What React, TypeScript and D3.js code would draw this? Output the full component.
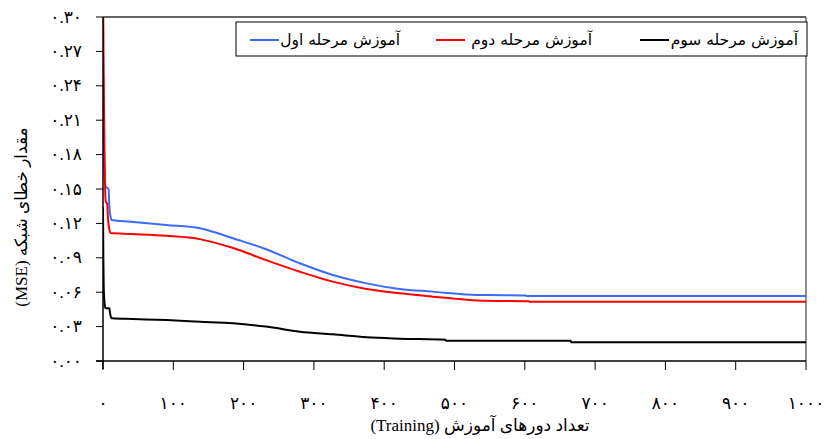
import React from 'react';
import * as d3 from 'd3';

const stage1X = [0, 0.5, 1, 2, 3, 4, 8, 9, 11, 12, 40, 90, 138, 160, 185, 232, 280, 327, 375, 422, 469, 517, 545, 601, 602, 1000];
const stage1Y = [0.26, 0.23, 0.20, 0.17, 0.155, 0.152, 0.150, 0.135, 0.125, 0.123, 0.1215, 0.1186, 0.1157, 0.112, 0.107, 0.0975, 0.0852, 0.075, 0.0677, 0.0628, 0.0605, 0.0581, 0.0575, 0.0572, 0.0567, 0.0567];

const stage2X = [0, 1, 2, 3, 4, 6, 7, 9, 11, 40, 90, 138, 160, 185, 232, 280, 327, 375, 422, 469, 517, 545, 606, 607, 1000];
const stage2Y = [0.33, 0.25, 0.19, 0.15, 0.139, 0.137, 0.125, 0.115, 0.1116, 0.1108, 0.1093, 0.1063, 0.103, 0.0985, 0.088, 0.0779, 0.0692, 0.0628, 0.059, 0.0561, 0.0535, 0.0526, 0.0521, 0.0517, 0.0517];

const stage3X = [0, 0.5, 1, 2, 3, 4, 9, 10, 12, 13, 43, 90, 138, 185, 232, 280, 327, 375, 422, 487, 488, 665, 666, 1000];
const stage3Y = [0.134, 0.09, 0.065, 0.052, 0.047, 0.046, 0.046, 0.042, 0.0375, 0.0372, 0.0366, 0.0357, 0.0343, 0.0329, 0.030, 0.0256, 0.0233, 0.0207, 0.0195, 0.0185, 0.0177, 0.0177, 0.0164, 0.0164];

const seriesNames = ['آموزش مرحله اول', 'آموزش مرحله دوم', 'آموزش مرحله سوم'];
const seriesColors = ['#3b6cf5', '#ff0000', '#000000'];

const yTickValues = [0, 0.03, 0.06, 0.09, 0.12, 0.15, 0.18, 0.21, 0.24, 0.27, 0.30];
const xTickValues = [0, 100, 200, 300, 400, 500, 600, 700, 800, 900, 1000];

const xTitle = 'تعداد دورهای آموزش (Training)';
const yTitle = 'مقدار خطای شبکه (MSE)';

const fa = (s: string) => s.replace(/\d/g, (d) => '۰۱۲۳۴۵۶۷۸۹'[+d]);

export default function App() {
  const W = 824, H = 439;
  const left = 103, right = 806, top = 17, bottom = 361;
  const x = d3.scaleLinear().domain([0, 1000]).range([left, right]);
  const y = d3.scaleLinear().domain([0, 0.30]).range([bottom, top]);

  const series = [
    { xs: stage1X, ys: stage1Y },
    { xs: stage2X, ys: stage2Y },
    { xs: stage3X, ys: stage3Y },
  ];
  const line = d3
    .line<[number, number]>()
    .x((d) => x(d[0]))
    .y((d) => y(d[1]))
    .curve(d3.curveMonotoneX);

  const font = "'Liberation Serif', 'DejaVu Sans', serif";
  const legendFont = "'DejaVu Sans', sans-serif";

  const legendItems = [
    { lx: 250, tx: 400 },
    { lx: 436, tx: 592 },
    { lx: 640, tx: 798 },
  ];

  return (
    <svg width={W} height={H} style={{ position: 'absolute', left: 0, top: 0, background: '#fff' }}>
      <defs>
        <clipPath id="plotClip">
          <rect x={left} y={top} width={right - left} height={bottom - top} />
        </clipPath>
      </defs>
      <rect x={0} y={0} width={W} height={H} fill="#fff" />
      <line x1={left} x2={right} y1={top} y2={top} stroke="#333" strokeWidth={1.5} />
      <line x1={right} x2={right} y1={top} y2={bottom} stroke="#666" strokeWidth={1.5} />

      <g clipPath="url(#plotClip)">
        {[2, 0, 1].map((i) => (
          <path
            key={i}
            d={line(series[i].xs.map((v, j) => [v, series[i].ys[j]] as [number, number])) || ''}
            fill="none"
            stroke={seriesColors[i]}
            strokeWidth={2}
            strokeLinejoin="round"
          />
        ))}
      </g>

      <line x1={left} x2={left} y1={top} y2={bottom + 8} stroke="#000" strokeWidth={1.5} />
      <line x1={left - 7} x2={right} y1={bottom} y2={bottom} stroke="#000" strokeWidth={1.5} />
      {yTickValues.map((t) => (
        <g key={'y' + t}>
          <line x1={left - 7} x2={left} y1={y(t)} y2={y(t)} stroke="#000" strokeWidth={1} />
          <text x={82} y={y(t)} dy="0.33em" textAnchor="end" fontFamily={font} fontSize={17} fill="#000">
            {fa(t.toFixed(2))}
          </text>
        </g>
      ))}
      {xTickValues.map((t) => (
        <g key={'x' + t}>
          <line x1={x(t)} x2={x(t)} y1={bottom} y2={bottom + 9} stroke="#000" strokeWidth={1} />
          <text x={x(t)} y={409} textAnchor="middle" fontFamily={font} fontSize={17} fill="#000">
            {fa(String(t))}
          </text>
        </g>
      ))}

      <text x={480} y={431} textAnchor="middle" fontFamily={font} fontSize={17} fill="#000" style={{ direction: 'rtl', unicodeBidi: 'embed' }}>
        {xTitle}
      </text>
      <text
        transform="translate(21,217) rotate(-90)"
        textAnchor="middle"
        dy="0.35em"
        fontFamily={font}
        fontSize={17}
        fill="#000"
        style={{ direction: 'rtl', unicodeBidi: 'embed' }}
      >
        {yTitle}
      </text>

      <rect x={236} y={22} width={571} height={34} fill="#fff" stroke="#000" strokeWidth={1} />
      {legendItems.map((it, i) => (
        <g key={'lg' + i}>
          <line x1={it.lx} x2={it.lx + 29} y1={40} y2={40} stroke={seriesColors[i]} strokeWidth={2} />
          <text x={it.tx} y={45} textAnchor="start" fontFamily={legendFont} fontSize={15.5} fill="#000" style={{ direction: 'rtl', unicodeBidi: 'embed' }}>
            {seriesNames[i]}
          </text>
        </g>
      ))}
    </svg>
  );
}
